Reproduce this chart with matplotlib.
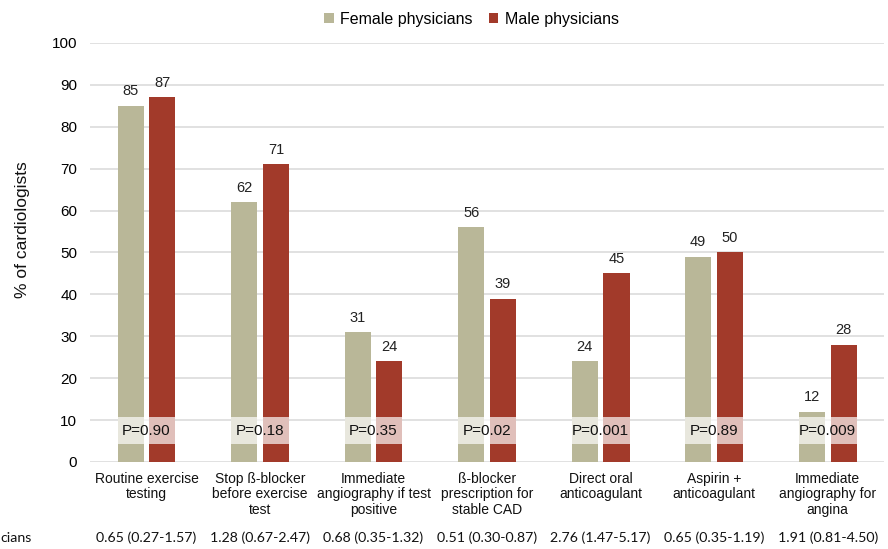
import matplotlib
matplotlib.use("Agg")
import matplotlib.pyplot as plt
import numpy as np

plt.rcParams['font.family'] = ['Liberation Sans', 'DejaVu Sans']

categories = [
    "Routine exercise\ntesting",
    "Stop ß-blocker\nbefore exercise\ntest",
    "Immediate\nangiography if test\npositive",
    "ß-blocker\nprescription for\nstable CAD",
    "Direct oral\nanticoagulant",
    "Aspirin +\nanticoagulant",
    "Immediate\nangiography for\nangina",
]
female = [85, 62, 31, 56, 24, 49, 12]
male = [87, 71, 24, 39, 45, 50, 28]
p_values = ["P=0.90", "P=0.18", "P=0.35", "P=0.02", "P=0.001", "P=0.89", "P=0.009"]
odds_ratios = ["0.65 (0.27-1.57)", "1.28 (0.67-2.47)", "0.68 (0.35-1.32)",
               "0.51 (0.30-0.87)", "2.76 (1.47-5.17)", "0.65 (0.35-1.19)",
               "1.91 (0.81-4.50)"]
yticks = list(range(0, 101, 10))

female_color = "#b9b798"
male_color = "#a23a2a"

fig = plt.figure(figsize=(8.88, 5.49), dpi=100)
ax = fig.add_axes([0.101, 0.1585, 0.895, 0.7632])

x = np.arange(len(categories))
w = 0.23
off = 0.14
bf = ax.bar(x - off, female, w, color=female_color, label="Female physicians", zorder=2)
bm = ax.bar(x + off, male, w, color=male_color, label="Male physicians", zorder=2)

for xi, v in zip(x - off, female):
    ax.text(xi, v + 1.8, str(v), ha="center", va="bottom", fontsize=10.5, color="#222222")
for xi, v in zip(x + off, male):
    ax.text(xi, v + 1.8, str(v), ha="center", va="bottom", fontsize=10.5, color="#222222")

# P-value band across each pair of bars
for xi, p in zip(x, p_values):
    ax.add_patch(plt.Rectangle((xi - off - w / 2, 4.2), 2 * off + w, 6.6,
                               facecolor="white", alpha=0.68, edgecolor="none", zorder=3))
    ax.text(xi, 7.4, p, ha="center", va="center", fontsize=11, color="#111111", zorder=4)

ax.set_xlim(-0.5, len(categories) - 0.5)
ax.set_ylim(0, 100)
ax.set_yticks(yticks)
ax.set_xticks(x)
ax.set_xticklabels(categories, fontsize=10, color="#111111", linespacing=1.15)
ax.tick_params(axis="both", length=0)
ax.tick_params(axis="x", pad=7)
ax.tick_params(axis="y", labelsize=11, pad=9)
ax.yaxis.grid(True, color="#dcdcdc", linewidth=1.2, zorder=0)
ax.set_axisbelow(True)
for s in ax.spines.values():
    s.set_visible(False)

fig.text(22 / 888, 1 - 230 / 549, "% of cardiologists", rotation=90, ha="center",
         va="center", fontsize=12.5, color="#111111")

fig.legend(handles=[bf, bm], loc="upper center", bbox_to_anchor=(0.531, 1.005), ncol=2,
           frameon=False, fontsize=11.5, handlelength=0.6, handleheight=0.6,
           handletextpad=0.4, columnspacing=1.0)

# Odds ratio row under the categories
row_y = 1 - 538 / 549
for xi, o in zip(x, odds_ratios):
    xf = ax.transData.transform((xi, 0))[0] / fig.bbox.width
    fig.text(xf, row_y, o, ha="center", va="center", fontsize=10.2,
             family=["Lato", "DejaVu Sans"], color="#111111")
fig.text(0.0, row_y, "cians", ha="left", va="center",
         fontsize=10.2, family=["Lato", "DejaVu Sans"], color="#111111")

fig.savefig("out.png", dpi=100)
